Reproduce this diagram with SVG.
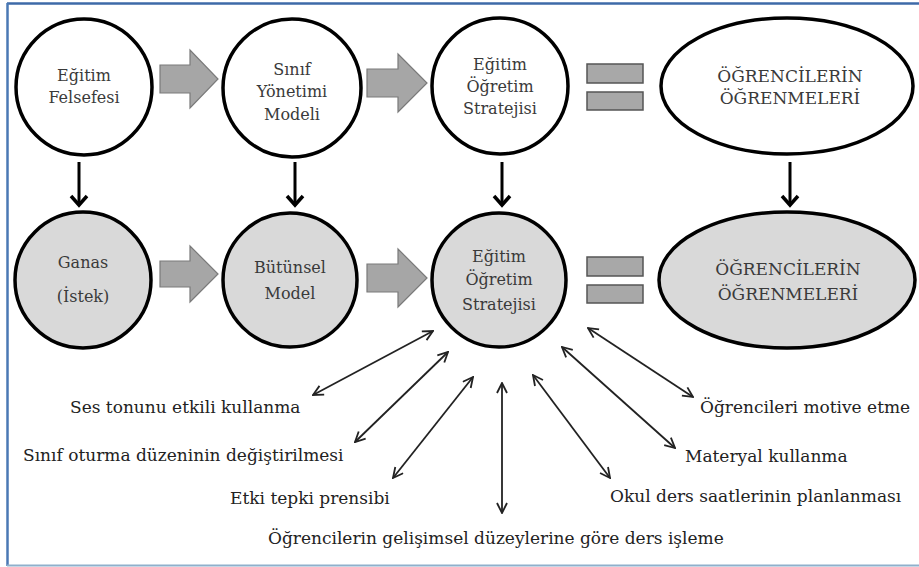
<svg xmlns="http://www.w3.org/2000/svg" width="919" height="567" viewBox="0 0 919 567">
<defs>
<style>
.node-white{fill:#ffffff;stroke:#000;stroke-width:3.5}
.node-gray{fill:#d9d9d9;stroke:#000;stroke-width:3.5}
.t{font-family:"DejaVu Serif","Liberation Serif",serif;font-size:16px;fill:#3a3a3a;text-anchor:middle}
.tc{font-family:"DejaVu Serif","Liberation Serif",serif;font-size:17px;fill:#3a3a3a;text-anchor:middle}
.lbl{font-family:"DejaVu Serif","Liberation Serif",serif;font-size:17px;fill:#222}
.blk{fill:#a6a6a6;stroke:#7a7a7a;stroke-width:1.2}
.eq{fill:#a8a8a8;stroke:#555;stroke-width:1.5}
.down{stroke:#000;stroke-width:3;fill:none;marker-end:url(#dh)}
.thin{stroke:#222;stroke-width:1.8;fill:none;marker-start:url(#ah);marker-end:url(#ah)}
</style>
<marker id="ah" viewBox="0 0 12 12" refX="11" refY="6" markerWidth="12" markerHeight="12" orient="auto-start-reverse" markerUnits="userSpaceOnUse">
<path d="M1,1 L11,6 L1,11" fill="none" stroke="#222" stroke-width="1.8"/>
</marker>
<marker id="dh" viewBox="0 0 20 20" refX="17" refY="10" markerWidth="20" markerHeight="20" orient="auto" markerUnits="userSpaceOnUse">
<path d="M8,2 L17,10 L8,18" fill="none" stroke="#000" stroke-width="3.5"/>
</marker>
</defs>
<rect x="0" y="0" width="919" height="567" fill="#ffffff"/>
<g id="frame">
<line x1="7" y1="3.5" x2="919" y2="3.5" stroke="#3e6aa8" stroke-width="2.5"/>
<line x1="7.5" y1="3" x2="7.5" y2="566" stroke="#4a78b4" stroke-width="2.5"/>
<line x1="7" y1="565.5" x2="919" y2="565.5" stroke="#8fb0cc" stroke-width="2"/>
</g>

<g id="connectors">
<path class="blk" d="M160,65 H190 V50 L218,79 L190,108 V93 H160 Z"/>
<path class="blk" d="M367,69 H398 V54 L427,83 L398,112 V97 H367 Z"/>
<path class="blk" d="M160,261 H190 V246 L218,274 L190,302 V287 H160 Z"/>
<path class="blk" d="M367,264 H398 V249 L427,278 L398,307 V292 H367 Z"/>
<rect class="eq" x="587" y="64" width="56" height="19"/>
<rect class="eq" x="587" y="92" width="56" height="18"/>
<rect class="eq" x="587" y="257" width="56" height="19"/>
<rect class="eq" x="587" y="285" width="56" height="18"/>
<line class="down" x1="79" y1="162" x2="79" y2="205"/>
<line class="down" x1="295" y1="162" x2="295" y2="205"/>
<line class="down" x1="502" y1="162" x2="502" y2="205"/>
<line class="down" x1="790" y1="162" x2="790" y2="205"/>
<line class="thin" x1="433" y1="331" x2="313" y2="395"/>
<line class="thin" x1="448" y1="352" x2="355" y2="442"/>
<line class="thin" x1="473" y1="377" x2="393" y2="478"/>
<line class="thin" x1="502" y1="383" x2="502" y2="513"/>
<line class="thin" x1="533" y1="375" x2="610" y2="478"/>
<line class="thin" x1="562" y1="347" x2="675" y2="448"/>
<line class="thin" x1="588" y1="328" x2="693" y2="397"/>
</g>

<g id="egitim-felsefesi">
<circle class="node-white" cx="84" cy="87" r="68"/>
<text class="t" x="84" y="81">Eğitim</text>
<text class="t" x="84" y="103">Felsefesi</text>
</g>
<g id="sinif-yonetimi-modeli">
<circle class="node-white" cx="292" cy="88" r="69"/>
<text class="t" x="292" y="75">Sınıf</text>
<text class="t" x="292" y="97">Yönetimi</text>
<text class="t" x="292" y="120">Modeli</text>
</g>
<g id="egitim-ogretim-stratejisi-1">
<circle class="node-white" cx="500" cy="86" r="68"/>
<text class="t" x="500" y="70">Eğitim</text>
<text class="t" x="500" y="92">Öğretim</text>
<text class="t" x="500" y="114">Stratejisi</text>
</g>
<g id="ogrencilerin-ogrenmeleri-1">
<ellipse class="node-white" cx="787" cy="86" rx="126" ry="68"/>
<text class="tc" x="790" y="82">ÖĞRENCİLERİN</text>
<text class="tc" x="790" y="104">ÖĞRENMELERİ</text>
</g>

<g id="ganas">
<circle class="node-gray" cx="83" cy="280" r="68"/>
<text class="t" x="83" y="268">Ganas</text>
<text class="t" x="83" y="302">(İstek)</text>
</g>
<g id="butunsel-model">
<circle class="node-gray" cx="290" cy="280" r="67"/>
<text class="t" x="290" y="273">Bütünsel</text>
<text class="t" x="290" y="299">Model</text>
</g>
<g id="egitim-ogretim-stratejisi-2">
<circle class="node-gray" cx="499" cy="280" r="67"/>
<text class="t" x="499" y="262">Eğitim</text>
<text class="t" x="499" y="285">Öğretim</text>
<text class="t" x="499" y="310">Stratejisi</text>
</g>
<g id="ogrencilerin-ogrenmeleri-2">
<ellipse class="node-gray" cx="787" cy="280" rx="128" ry="68"/>
<text class="tc" x="788" y="275">ÖĞRENCİLERİN</text>
<text class="tc" x="788" y="300">ÖĞRENMELERİ</text>
</g>

<g id="labels">
<text class="lbl" x="70" y="413">Ses tonunu etkili kullanma</text>
<text class="lbl" x="23" y="461">Sınıf oturma düzeninin değiştirilmesi</text>
<text class="lbl" x="230" y="504">Etki tepki prensibi</text>
<text class="lbl" x="268" y="544">Öğrencilerin gelişimsel düzeylerine göre ders işleme</text>
<text class="lbl" x="610" y="502">Okul ders saatlerinin planlanması</text>
<text class="lbl" x="685" y="462">Materyal kullanma</text>
<text class="lbl" x="700" y="413">Öğrencileri motive etme</text>
</g>
</svg>
